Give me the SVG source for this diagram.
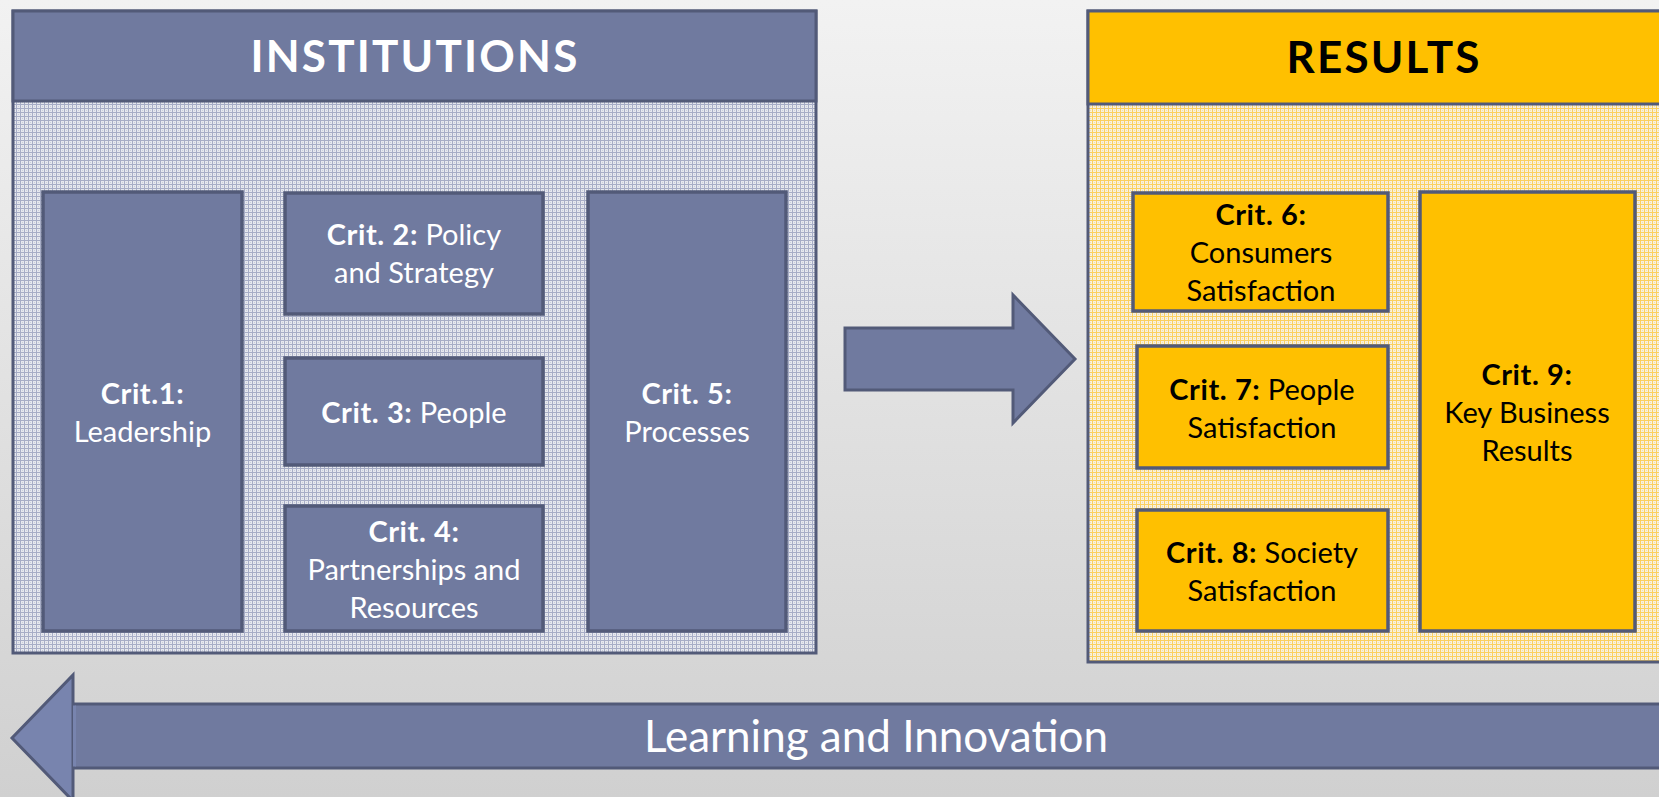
<svg xmlns="http://www.w3.org/2000/svg" width="1659" height="797" viewBox="0 0 1659 797">
  <defs>
    <linearGradient id="bg" x1="0" y1="0" x2="0" y2="1">
      <stop offset="0" stop-color="#f2f2f2"/>
      <stop offset="1" stop-color="#d0d0d0"/>
    </linearGradient>
    <pattern id="gridBlue" width="4" height="4" patternUnits="userSpaceOnUse">
      <rect width="4" height="4" fill="#e6e8ee"/>
      <rect x="0" y="0" width="1" height="4" fill="#a7adc6"/>
      <rect x="0" y="0" width="4" height="1" fill="#a7adc6"/>
      <rect x="2" y="2" width="1" height="1" fill="#c9cddb"/>
    </pattern>
    <pattern id="gridYellow" width="4" height="4" patternUnits="userSpaceOnUse">
      <rect width="4" height="4" fill="#f6f0e2"/>
      <rect x="0" y="0" width="1" height="4" fill="#fbd060"/>
      <rect x="0" y="0" width="4" height="1" fill="#fbd060"/>
      <rect x="2" y="2" width="1" height="1" fill="#f7e2a6"/>
    </pattern>
  </defs>
  <style>
    .frame { stroke: #525a78; stroke-width: 3; }
    .blue { fill: #707a9f; }
    .gold { fill: #ffc000; }
    .box { stroke: #525a78; stroke-width: 3.5; }
    .t { font-family: "Lato", "Liberation Sans", sans-serif; text-anchor: middle; }
    .tw { fill: #ffffff; }
    .tk { fill: #000000; }
    .crit { font-size: 29px; }
    .b { font-weight: bold; letter-spacing: 0.6px; }
    .head { font-size: 44px; font-weight: bold; letter-spacing: 2.2px; }
  </style>

  <rect width="1659" height="797" fill="url(#bg)"/>

  <!-- Enablers panel -->
  <g id="institutions">
    <rect x="13" y="11" width="803" height="642" fill="url(#gridBlue)" class="frame"/>
    <rect x="13" y="11" width="803" height="90" class="blue frame"/>
    <text x="415" y="72" class="t tw head">INSTITUTIONS</text>
  </g>

  <g id="crit1">
    <rect x="43" y="192" width="199" height="439" class="blue box"/>
    <text x="142.5" y="404" class="t tw crit b">Crit.1:</text>
    <text x="142.5" y="442" class="t tw crit">Leadership</text>
  </g>

  <g id="crit2">
    <rect x="285" y="193" width="258" height="121" class="blue box"/>
    <text x="414" y="245" class="t tw crit"><tspan class="b">Crit. 2:</tspan> Policy</text>
    <text x="414" y="283" class="t tw crit">and Strategy</text>
  </g>

  <g id="crit3">
    <rect x="285" y="358" width="258" height="107" class="blue box"/>
    <text x="414" y="423" class="t tw crit"><tspan class="b">Crit. 3:</tspan> People</text>
  </g>

  <g id="crit4">
    <rect x="285" y="506" width="258" height="125" class="blue box"/>
    <text x="414" y="542" class="t tw crit b">Crit. 4:</text>
    <text x="414" y="580" class="t tw crit">Partnerships and</text>
    <text x="414" y="618" class="t tw crit">Resources</text>
  </g>

  <g id="crit5">
    <rect x="588" y="192" width="198" height="439" class="blue box"/>
    <text x="687" y="404" class="t tw crit b">Crit. 5:</text>
    <text x="687" y="442" class="t tw crit">Processes</text>
  </g>

  <!-- Results panel -->
  <g id="results">
    <rect x="1088" y="11" width="590" height="651" fill="url(#gridYellow)" class="frame"/>
    <rect x="1088" y="11" width="590" height="93" class="gold frame"/>
    <text x="1384" y="73" class="t tk head">RESULTS</text>
  </g>

  <g id="crit6">
    <rect x="1133" y="193" width="255" height="118" class="gold box"/>
    <text x="1261" y="225" class="t tk crit b">Crit. 6:</text>
    <text x="1261" y="263" class="t tk crit">Consumers</text>
    <text x="1261" y="301" class="t tk crit">Satisfaction</text>
  </g>

  <g id="crit7">
    <rect x="1137" y="346" width="251" height="122" class="gold box"/>
    <text x="1262" y="400" class="t tk crit"><tspan class="b">Crit. 7:</tspan> People</text>
    <text x="1262" y="438" class="t tk crit">Satisfaction</text>
  </g>

  <g id="crit8">
    <rect x="1137" y="510" width="251" height="121" class="gold box"/>
    <text x="1262" y="563" class="t tk crit"><tspan class="b">Crit. 8:</tspan> Society</text>
    <text x="1262" y="601" class="t tk crit">Satisfaction</text>
  </g>

  <g id="crit9">
    <rect x="1420" y="192" width="215" height="439" class="gold box"/>
    <text x="1527" y="385" class="t tk crit b">Crit. 9:</text>
    <text x="1527" y="423" class="t tk crit">Key Business</text>
    <text x="1527" y="461" class="t tk crit">Results</text>
  </g>

  <!-- Block arrows -->
  <g id="connectors">
    <polygon points="845,328 1013,328 1013,295 1075,359 1013,423 1013,390 845,390" class="blue frame"/>
    <g id="learning-arrow">
      <rect x="73" y="704" width="1610" height="64" class="blue frame"/>
      <polygon points="73,675 73,801 12,738" fill="#7884ae" class="frame"/>
      <rect x="73" y="705.5" width="3" height="61" fill="#7884ae"/>
      <text x="876" y="752" class="t tw" font-size="44">Learning and Innovation</text>
    </g>
  </g>
</svg>
